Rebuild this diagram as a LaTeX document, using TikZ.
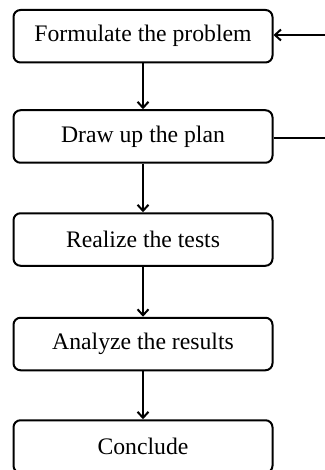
\documentclass[tikz,border=0pt]{standalone}
\usepackage{fontspec}
\setmainfont{Liberation Serif}
\usetikzlibrary{arrows.meta}
\begin{document}
\begin{tikzpicture}[x=1pt,y=-1pt,
  stepbox/.style={draw, line width=2pt, rounded corners=7pt, minimum width=259pt, minimum height=52.5pt, inner sep=0pt, font=\fontsize{23.7}{27}\selectfont},
  flow/.style={line width=2pt, -{Straight Barb[length=6pt,width=11pt,line width=2pt]}}]
\useasboundingbox (0,0) rectangle (324,470);
\node[stepbox] (b1) at (143,36.25) {Formulate the problem};
\node[stepbox] (b2) at (143,136.5) {Draw up the plan};
\node[stepbox] (b3) at (143,239.5) {Realize the tests};
\node[stepbox] (b4) at (143,344) {Analyze the results};
\node[stepbox] (b5) at (143,446.5) {Conclude};
\coordinate (r1) at (326,35);
\coordinate (r2) at (326,138);
\draw[flow] (b1) -- (b2);
\draw[flow] (b2) -- (b3);
\draw[flow] (b3) -- (b4);
\draw[flow] (b4) -- (b5);
\draw[flow] (r1) -- (b1.east |- r1);
\draw[line width=2pt] (b2.east |- r2) -- (r2);
\end{tikzpicture}
\end{document}
